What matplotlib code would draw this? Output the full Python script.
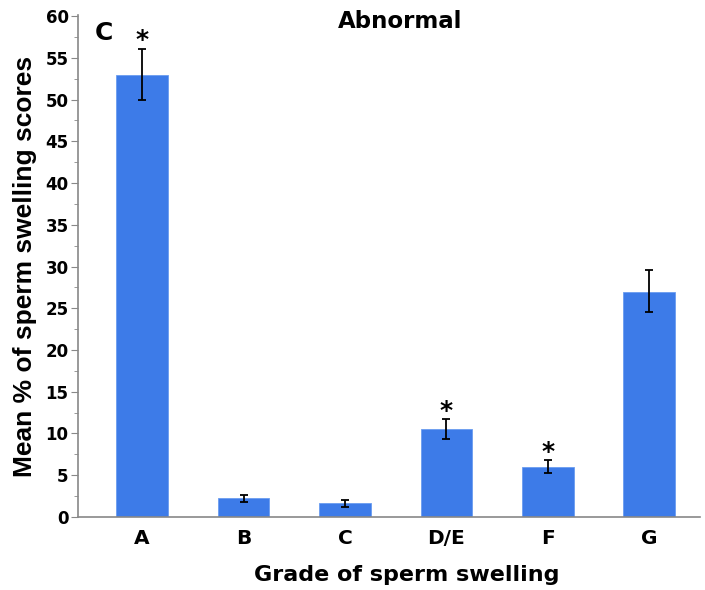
import numpy as np
import matplotlib.pyplot as plt
from matplotlib.ticker import MultipleLocator

grades = ['A', 'B', 'C', 'D/E', 'F', 'G']
means = [53.0, 2.2, 1.6, 10.5, 6.0, 27.0]
err_lo = [3.1, 0.4, 0.4, 1.2, 0.8, 2.5]
err_hi = [3.1, 0.4, 0.4, 1.2, 0.8, 2.6]
signif = [True, False, False, True, True, False]

bar_col = '#3d7be8'

fig = plt.figure(figsize=(7.05, 5.9), dpi=100)
ax = fig.add_axes([0.111, 0.124, 0.882, 0.850])

x = np.arange(len(grades))
ax.bar(x, means, width=0.51, color=bar_col, edgecolor='#6a9cf0', linewidth=0.6, zorder=2)
ax.errorbar(x, means, yerr=[err_lo, err_hi], fmt='none', ecolor='black',
            elinewidth=1.3, capsize=3, capthick=1.3, zorder=3)

# asterisks over the significant bars
for xi, m, e, s in zip(x, means, err_hi, signif):
    if s:
        ax.annotate('*', (xi, m + e), xytext=(0, 1), textcoords='offset points',
                    ha='center', va='baseline', fontsize=18, fontweight='bold',
                    family='DejaVu Sans', color='black')

ax.set_xlim(-0.63, 5.5)
ax.set_ylim(0, 60.1)
ax.yaxis.set_major_locator(MultipleLocator(5))
ax.yaxis.set_minor_locator(MultipleLocator(2.5))
ax.set_xticks(x)
ax.set_xticklabels(grades, family='DejaVu Sans', fontweight='bold', fontsize=14.5)
for lab in ax.get_yticklabels():
    lab.set_family('DejaVu Sans')
    lab.set_fontweight('bold')
    lab.set_fontsize(12)

for sp in ['top', 'right']:
    ax.spines[sp].set_visible(False)
for sp in ['left', 'bottom']:
    ax.spines[sp].set_color('#888888')
    ax.spines[sp].set_linewidth(1.2)
ax.tick_params(axis='y', which='major', length=5, color='#888888', pad=2)
ax.tick_params(axis='y', which='minor', length=3, color='#888888')
ax.tick_params(axis='x', length=0, pad=9)

ax.set_ylabel('Mean % of sperm swelling scores', family='Liberation Sans',
              fontweight='bold', fontsize=19, labelpad=6)
fig.text(407 / 705, 1 - 575 / 590, 'Grade of sperm swelling', family='DejaVu Sans',
         fontweight='bold', fontsize=16, ha='center', va='center')
fig.text(400 / 705, 1 - 21 / 590, 'Abnormal', family='DejaVu Sans', fontweight='bold',
         fontsize=16.5, ha='center', va='center')
ax.text(0.027, 0.988, 'C', transform=ax.transAxes, family='DejaVu Sans',
        fontweight='bold', fontsize=18, va='top', ha='left')

plt.savefig('out.png', dpi=100)
